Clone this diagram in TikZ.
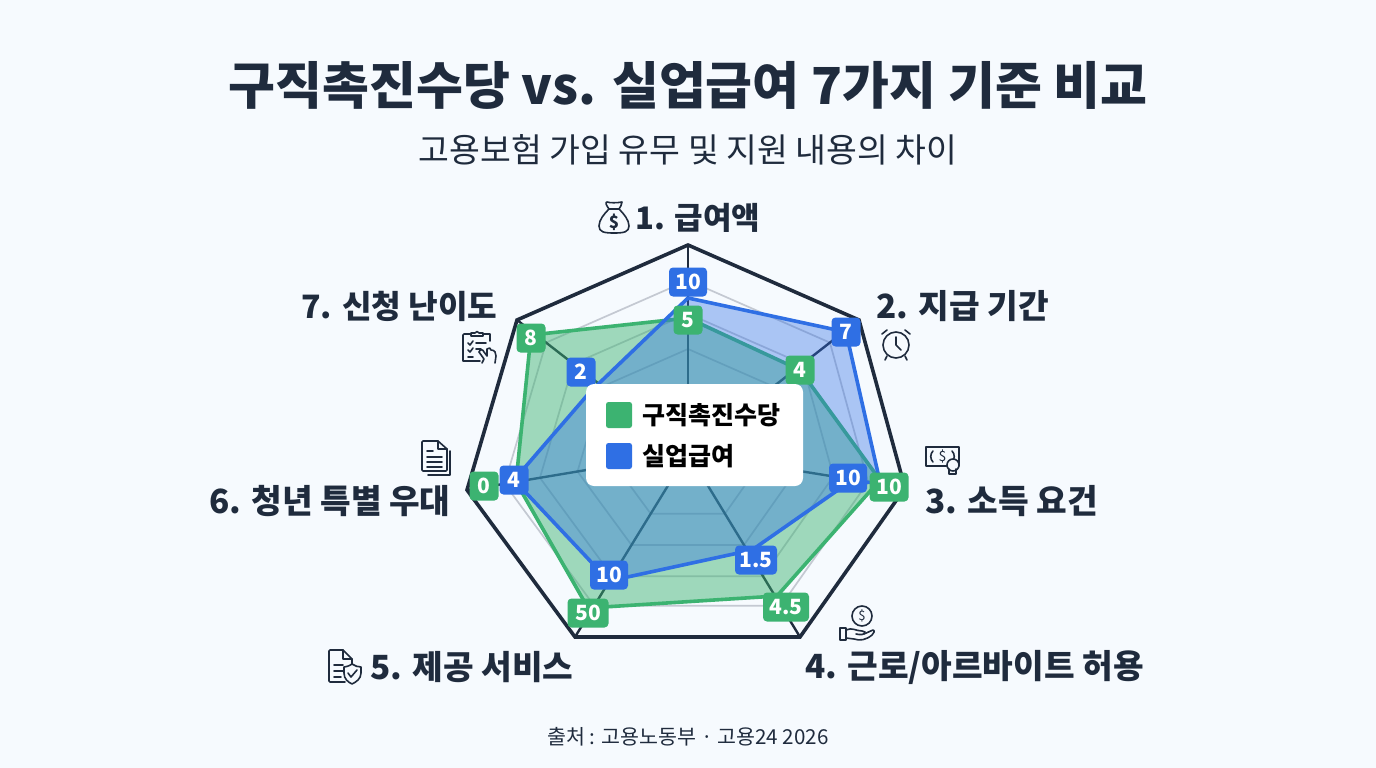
\documentclass[tikz,border=0pt]{standalone}
\usepackage{fontspec}
\setmainfont{Noto Sans CJK KR}
\usetikzlibrary{calc}
\definecolor{bgpaper}{HTML}{F6FAFE}
\definecolor{ink}{HTML}{1F2B3D}
\definecolor{gogreen}{HTML}{3CB371}
\definecolor{goblue}{HTML}{2F6FE4}
\definecolor{ringgray}{HTML}{C4C9D2}
\newcommand{\px}[1]{\fontsize{#1}{#1}\selectfont}
\tikzset{
  axislabel/.style={text=ink,font=\px{33.3}\bfseries,inner sep=0pt},
  gbadge/.style={fill=gogreen,text=white,font=\px{21}\bfseries,rounded corners=4pt,minimum height=29pt,minimum width=29pt,inner sep=2pt},
  bbadge/.style={gbadge,fill=goblue},
  spoke/.style={draw=ink,line width=2.4pt},
  ringline/.style={draw=ringgray,line width=1.7pt},
  dataline/.style={line width=3.6pt,line join=round},
  icon/.style={draw=ink,line width=1.6pt,line cap=round,line join=round},
  swatch/.style={rounded corners=2.5pt,minimum size=26pt,inner sep=0pt},
}
\begin{document}
\begin{tikzpicture}[x=1pt,y=-1pt]
\useasboundingbox (0,0) rectangle (1376,768);
\fill[bgpaper] (0,0) rectangle (1376,768);
\node[text=ink,font=\px{51}\bfseries] (title) at (688,85) {구직촉진수당 vs. 실업급여 7가지 기준 비교};
\node[text=ink,font=\px{33.5}] (subtitle) at (688,150) {고용보험 가입 유무 및 지원 내용의 차이};
\node[text=ink,font=\px{20.6}] (source) at (688,737) {출처 : 고용노동부 · 고용24 2026};
% frame
\coordinate (ctr) at (688,453);
\coordinate (v1) at (688,245);
\coordinate (v2) at (859,320);
\coordinate (v3) at (905,488);
\coordinate (v4) at (800,637);
\coordinate (v5) at (575,637);
\coordinate (v6) at (467,490);
\coordinate (v7) at (517,320);
\foreach \r in {0.33,0.5,0.67,0.83}
  \draw[ringline] ($(ctr)!\r!(v1)$) -- ($(ctr)!\r!(v2)$) -- ($(ctr)!\r!(v3)$) -- ($(ctr)!\r!(v4)$) -- ($(ctr)!\r!(v5)$) -- ($(ctr)!\r!(v6)$) -- ($(ctr)!\r!(v7)$) -- cycle;
\foreach \v in {v1,v2,v3,v4,v5,v6,v7}
  \draw[spoke] (ctr) -- (\v);
\draw[ink,line width=3.6pt,line join=miter] (v1) -- (v2) -- (v3) -- (v4) -- (v5) -- (v6) -- (v7) -- cycle;
% data
\coordinate (g1) at (688,318);
\coordinate (g2) at (800,370);
\coordinate (g3) at (880,480);
\coordinate (g4) at (777,596);
\coordinate (g5) at (588,608);
\coordinate (g6) at (516,482);
\coordinate (g7) at (531,335);
\coordinate (b1) at (688,298);
\coordinate (b2) at (846,332);
\coordinate (b3) at (880,482);
\coordinate (b3i) at (848,483);
\coordinate (b4) at (752,550);
\coordinate (b5) at (609,581);
\coordinate (b6) at (514,480);
\coordinate (b7) at (590,392);
\fill[gogreen,opacity=.47] (g1) -- (g2) -- (g3) -- (g4) -- (g5) -- (g6) -- (g7) -- cycle;
\draw[gogreen,dataline] (g1) -- (g2) -- (g3) -- (g4) -- (g5) -- (g6) -- (g7) -- cycle;
\fill[goblue,opacity=.38] (b1) -- (b2) -- (b3) -- (b3i) -- (b4) -- (b5) -- (b6) -- (b7) -- cycle;
\draw[goblue,dataline] (b1) -- (b2) -- (b3) -- (b3i) -- (b4) -- (b5) -- (b6) -- (b7) -- cycle;
\node[gbadge] (n1) at (688,320) {5};
\node[gbadge] (n2) at (800,370) {4};
\node[gbadge,minimum width=39pt] (n3) at (889,487) {10};
\node[gbadge,minimum width=46pt] (n4) at (786,607) {4.5};
\node[gbadge,minimum width=41pt] (n5) at (588,613) {50};
\node[gbadge] (n6) at (484,486) {0};
\node[gbadge] (n7) at (531,338) {8};
\node[bbadge,minimum width=38pt] (m1) at (688,282) {10};
\node[bbadge] (m2) at (846,332) {7};
\node[bbadge,minimum width=38pt] (m3) at (848,478) {10};
\node[bbadge,minimum width=42pt] (m4) at (756,560) {1.5};
\node[bbadge,minimum width=38pt] (m5) at (609,575) {10};
\node[bbadge] (m6) at (514,480) {4};
\node[bbadge] (m7) at (581,372) {2};
% legend
\node[fill=white,rounded corners=8pt,minimum width=217pt,minimum height=102pt] (legend) at (694.5,435) {};
\node[swatch,fill=gogreen] (keygreen) at (619,415) {};
\node[swatch,fill=goblue] (keyblue) at (619,456) {};
\node[anchor=west,inner sep=0pt,text=black,font=\px{25}\bfseries] (keygreentext) at (642,415) {구직촉진수당};
\node[anchor=west,inner sep=0pt,text=black,font=\px{25}\bfseries] (keybluetext) at (642,456) {실업급여};
% labels
\node[axislabel,font=\px{31}\bfseries] (lab1) at (698,218) {1. 급여액};
\node[axislabel] (lab2) at (962.5,306) {2. 지급 기간};
\node[axislabel] (lab3) at (1011.5,501) {3. 소득 요건};
\node[axislabel] (lab4) at (974.5,667) {4. 근로/아르바이트 허용};
\node[axislabel] (lab5) at (472,667) {5. 제공 서비스};
\node[axislabel] (lab6) at (330,501) {6. 청년 특별 우대};
\node[axislabel,font=\px{32.2}\bfseries] (lab7) at (399.5,306) {7. 신청 난이도};
% money bag
\begin{scope}[shift={(614,218)}]
\draw[icon] (-5,-9) .. controls (-8,-13) and (-9,-16) .. (-7,-16) .. controls (-4,-15) and (3,-15) .. (8,-16) .. controls (8,-13) and (6,-11) .. (5,-9) -- cycle;
\draw[icon] (-5,-9) .. controls (-10,-4) and (-15,2) .. (-15,8) .. controls (-15,14) and (-10,15) .. (0,15) .. controls (10,15) and (15,14) .. (15,8) .. controls (15,2) and (10,-4) .. (5,-9);
\node[text=ink,font=\px{17}\bfseries,inner sep=0pt] (bagsign) at (0,4) {\$};
\end{scope}
% clock
\begin{scope}[shift={(896,345)}]
\draw[icon] (0,0) circle (13);
\draw[icon] (0,-8) -- (0,0) -- (5,5);
\draw[icon] (-14,-11) -- (-9,-15);
\draw[icon] (14,-11) -- (9,-15);
\draw[icon] (-9,11) -- (-11,15);
\draw[icon] (9,11) -- (11,15);
\end{scope}
% cash
\begin{scope}[shift={(926,447)}]
\draw[icon] (0,0) rectangle (33,19);
\node[text=ink,font=\px{14},inner sep=0pt] (cashsign) at (16.5,9.5) {\$};
\draw[icon] (7,4) .. controls (4,7) and (4,12) .. (7,15);
\draw[icon] (26,4) .. controls (29,7) and (29,12) .. (26,15);
\draw[icon,fill=bgpaper] (27,18) circle (6);
\draw[icon] (23,22) -- (23,27) -- (30,27) -- (30,22);
\end{scope}
% hand and coin
\begin{scope}[shift={(840,607)}]
\draw[icon] (22,9) circle (10);
\node[text=ink,font=\px{13},inner sep=0pt] (coinsign) at (22,9) {\$};
\draw[icon] (0,21) rectangle (6,33);
\draw[icon] (6,23) .. controls (12,20) and (16,24) .. (22,24) -- (25,25) .. controls (25,28) and (20,28) .. (16,27);
\draw[icon] (24,27) -- (33,23) .. controls (35,23) and (34,27) .. (32,28) .. controls (26,33) and (20,34) .. (14,32) -- (6,31);
\end{scope}
% document with shield
\begin{scope}[shift={(328,650)}]
\draw[icon] (17,32) -- (2,32) -- (1,31) -- (1,1) -- (2,0) -- (15,0) -- (24,9) -- (24,14);
\draw[icon] (15,0) -- (15,9) -- (24,9);
\draw[icon] (6,15) -- (15,15);
\draw[icon] (6,21) -- (15,21);
\draw[icon] (6,27) -- (13,27);
\draw[icon,fill=bgpaper] (24,14) .. controls (27,16) and (30,17) .. (33,17) -- (33,23) .. controls (33,29) and (28,32) .. (24,34) .. controls (20,32) and (16,29) .. (16,23) -- (16,17) .. controls (18,17) and (21,16) .. (24,14) -- cycle;
\draw[icon] (20,23) -- (23,27) -- (29,20);
\end{scope}
% document
\begin{scope}[shift={(422,441)}]
\draw[icon] (0,1) -- (0,29) -- (1,30) -- (24,30) -- (25,29) -- (25,8) -- (16,0) -- (1,0) -- cycle;
\draw[icon] (16,0) -- (16,8) -- (25,8);
\draw[icon] (28,10) -- (28,34) -- (6,34);
\draw[icon] (5,10) -- (11,10);
\draw[icon] (5,16) -- (20,16);
\draw[icon] (5,21) -- (20,21);
\draw[icon] (5,26) -- (20,26);
\end{scope}
% clipboard
\begin{scope}[shift={(463,331)}]
\draw[icon] (8,3) -- (1,3) -- (0,4) -- (0,30) -- (17,30);
\draw[icon] (8,5) -- (8,2) -- (12,2) .. controls (13,0) and (15,0) .. (16,2) -- (20,2) -- (20,5) -- cycle;
\draw[icon] (20,3) -- (27,3) -- (27,10);
\draw[icon] (5,12) -- (7,14) -- (10,10);
\draw[icon] (5,19) -- (7,21) -- (10,17);
\draw[icon] (5,26) -- (10,26);
\draw[icon] (13,12) -- (23,12);
\draw[icon] (13,18) -- (18,18);
\draw[icon] (16,21) -- (21,28) -- (19,32);
\draw[icon] (16,21) .. controls (17,18) and (20,18) .. (21,21) -- (24,25) -- (24,18) .. controls (26,16) and (28,17) .. (28,19) .. controls (32,19) and (33,22) .. (33,25) -- (32,32);
\end{scope}
\end{tikzpicture}
\end{document}
